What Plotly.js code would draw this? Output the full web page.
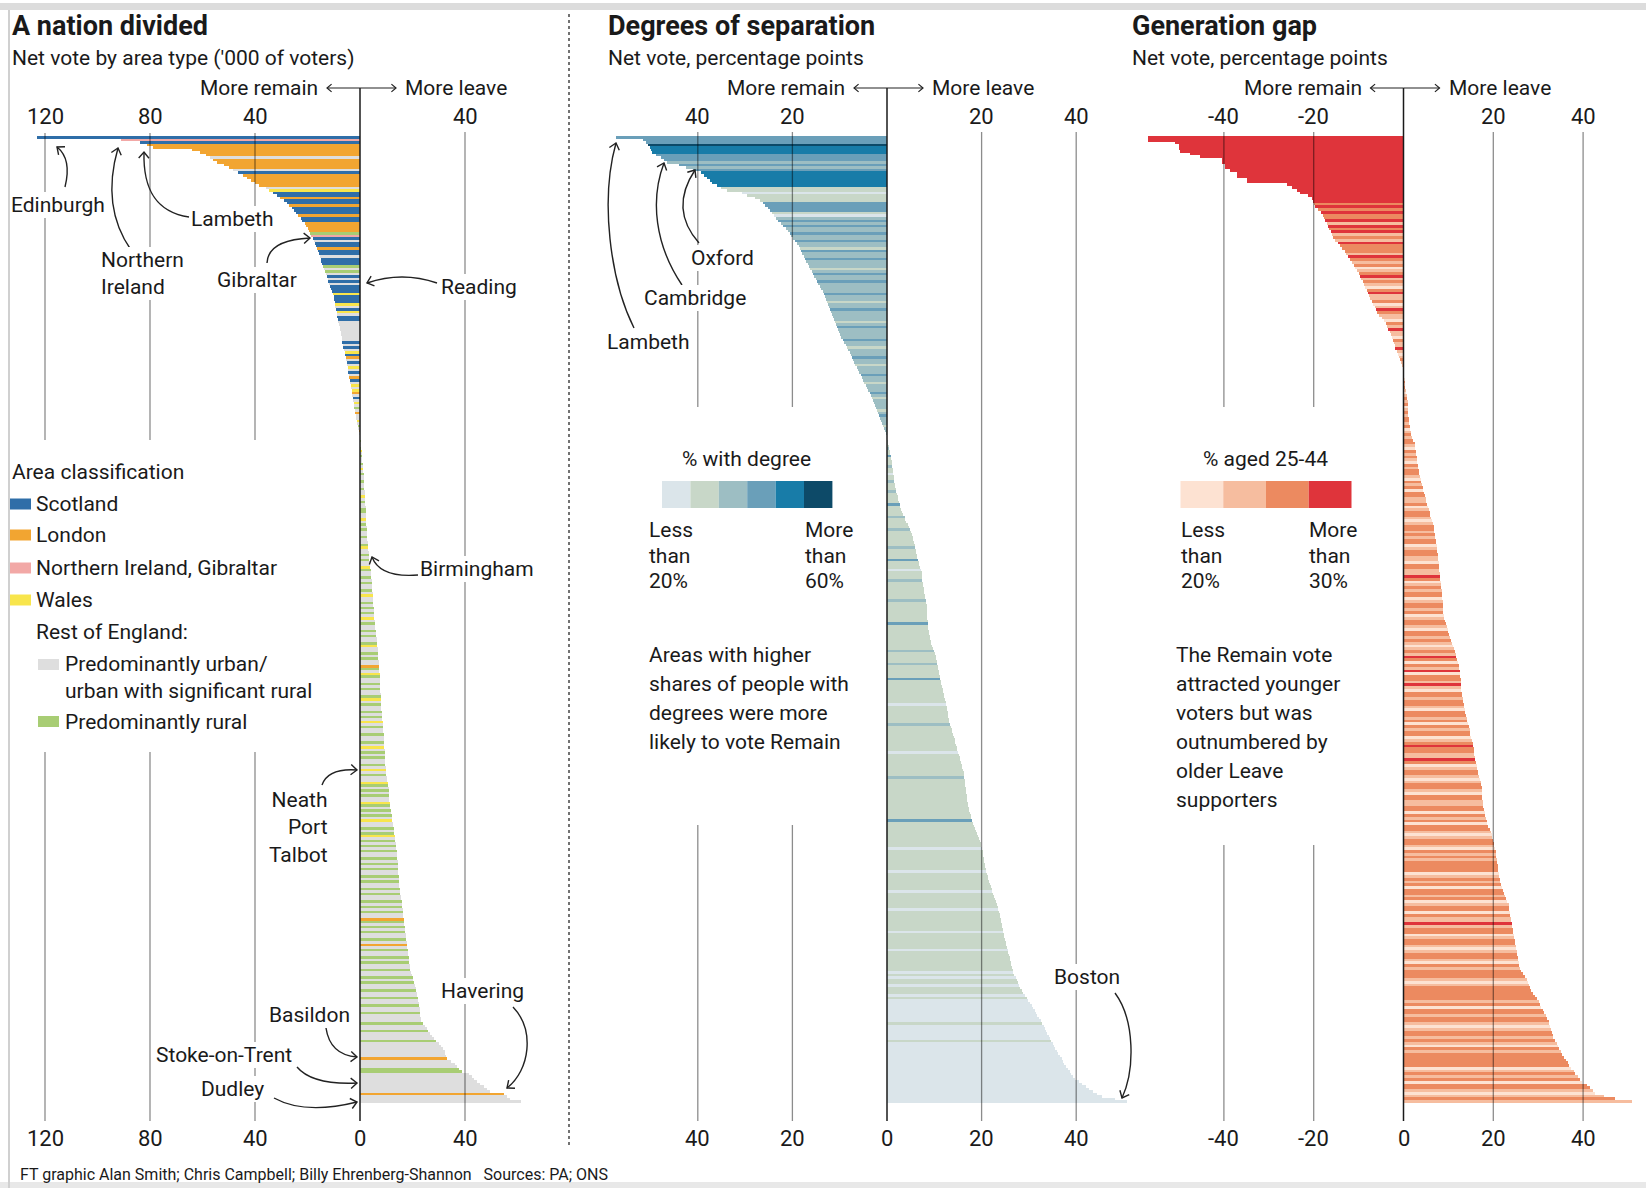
<!DOCTYPE html>
<html><head><meta charset="utf-8">
<script src="https://cdn.plot.ly/plotly-3.0.1.min.js"></script>
<style>html,body{margin:0;padding:0;background:#fff}#chart{width:1646px;height:1188px}</style>
</head><body><div id="chart"></div>
<script>
// ================= DATA =================
// Panel 1: net vote, '000 of voters (negative = more remain), areas sorted
const areaNet = [-123,-91,-84,-81,-79,-64,
-61,-58.5,-57,-56,-54.5,-52,-50,-48.5,-46.5,-44.5,-43,-41.5,-40,-38.5,
-36,-34.5,-33,-31.5,-30.5,-29,-28,-27,-26,-25,-24.5,-23.5,-22.5,-22,-21,-20.5,-20,-19.5,-19,-18.5,
-18,-17.5,-17,-16.8,-16.5,-16,-15.8,-15.4,-15,-14.7,-14.3,-14,-13.6,-13.2,-13,-12.6,-12.3,-12.1,-11.8,-11.3,
-11,-10.6,-10.4,-10,-9.8,-9.6,-9.5,-9.4,-9.1,-8.9,-8.8,-8.6,-8.4,-8.2,-8,-7.8,-7.6,-7.4,-7.2,-7,
-6.9,-6.7,-6.5,-6.3,-6.1,-5.9,-5.7,-5.5,-5.2,-5,-4.9,-4.7,-4.6,-4.4,-4.2,-4.1,-3.9,-3.7,-3.5,-3.3,
-3.2,-3,-2.9,-2.7,-2.5,-2.4,-2.3,-2.1,-2,-1.8,-1.7,-1.5,-1.3,-1.1,-0.9,-0.7,-0.5,-0.3,-0.1,
0.1,0.2,0.3,0.4,0.5,0.6,0.6,0.7,0.8,0.9,1,1.1,1.2,1.3,1.4,1.4,1.5,1.6,1.6,1.7,
1.7,1.8,1.8,1.9,1.9,2,2,2.1,2.1,2.2,2.2,2.3,2.3,2.4,2.4,2.5,2.5,2.6,2.7,2.7,
2.8,2.9,3,3.1,3.2,3.3,3.4,3.5,3.6,3.7,3.8,3.9,4,4.2,4.3,4.3,4.4,4.5,4.5,4.6,
4.7,4.8,4.8,4.9,5,5,5.1,5.2,5.3,5.4,5.5,5.5,5.6,5.7,5.8,5.9,6,6.1,6.2,6.3,
6.4,6.5,6.6,6.7,6.8,6.8,6.9,7,7.1,7.2,7.2,7.3,7.4,7.5,7.5,7.6,7.6,7.7,7.7,7.8,
7.8,7.9,7.9,7.9,8,8,8,8.1,8.2,8.3,8.4,8.5,8.6,8.7,8.7,8.8,8.9,9,9,9.1,
9.2,9.2,9.3,9.4,9.4,9.5,9.5,9.6,9.7,9.7,9.8,9.9,9.9,10,10.2,10.4,10.6,10.8,10.9,11,
11,11.1,11.2,11.2,11.3,11.5,11.6,11.8,11.9,12,12.2,12.3,12.5,12.6,12.8,12.9,13.1,13.2,13.4,13.5,
13.6,13.8,13.9,14,14.1,14.2,14.2,14.3,14.3,14.4,14.5,14.5,14.6,14.7,14.8,14.8,14.9,15,15.1,15.3,
15.4,15.6,15.7,15.9,16,16.1,16.2,16.3,16.4,16.5,16.6,16.7,16.8,17,17.1,17.3,17.4,17.6,17.7,17.8,
17.9,18,18.2,18.3,18.4,18.5,18.7,18.8,19,19.1,19.2,19.4,19.7,20,20.3,20.6,20.9,21.2,21.4,21.6,
21.8,22,22.2,22.4,22.6,22.7,22.8,22.9,23,23.2,23.3,24,24.7,25.4,26,26.8,27.5,28.2,29.1,30,
31,31.8,32.2,32.5,32.9,33.2,34.6,36,36.9,37.9,38.8,41.7,42.6,43.6,44.5,45.9,47.3,48.4,49.4,55,56,57,61.4];
// Area type per bar: S Scotland, L London, N Northern Ireland/Gibraltar, W Wales, U urban, R rural
const areaType =
 "SNSLLL"+"LLULLLLU"+"SLLLLL"+"UW"+"SSL"+"SSLSSSLSS"+"LLLLR"+"N"+"SUSSLSSUS"+"SSRU"+"RUSUS"+"USSSWSS"+"SWUSWUSS"+
 "UUUUUUUUSU"+"SUWSLUSUWUSULSUW"+"UWLUSUWURULUUWURULUW"+
 "URUURWURUURUWURUURUU"+"RUUWURUURRUUWURURUUR"+"UURWUURURUUWRUURURUU"+"RUWUURURURUWURUURURU"+
 "URWUURURUULRUWRUURUR"+"UURWURUURURUWURUURUU"+"RUWURURUURUWURUUWRUR"+"URUUWRURURUWUURURWUR"+
 "URURUURURURUURURUURU"+"RUURURURUULRURURUURU"+"LURUURURUURUURURUURU"+"URUURUURUUURUURUUURU"+
 "UUUUULUUURRUUUUUUUULUUU";

// Panel 2: net vote, percentage points, with degree-share band (0 lowest .. 5 highest)
const degreeNet = [-57.3,-51.5,-51,-50.5,-50.2,-50,-49.6,-48.8,-47.7,-47.2,-46.6,-44,-42.5,-41,-39.4,-38.6,-38,-37.5,-37,-36,
-35,-33.8,-30.7,-29.5,-28,-26.8,-26.3,-25.8,-25.2,-24.7,-24.3,-23.9,-23.4,-23,-22.4,-21.9,-21.4,-21,-20.6,-20.3,
-19.9,-19.5,-19.1,-18.7,-18.4,-18.1,-17.9,-17.6,-17.4,-17.1,-16.8,-16.4,-16.2,-15.9,-15.7,-15.4,-15.1,-14.8,-14.5,-14.2,
-13.9,-13.6,-13.3,-13.1,-12.8,-12.6,-12.4,-12.2,-12,-11.8,-11.6,-11.4,-11.2,-11,-10.8,-10.6,-10.4,-10.2,-10,-9.7,
-9.3,-9,-8.7,-8.5,-8.2,-7.9,-7.7,-7.4,-7.2,-6.9,-6.7,-6.4,-6.2,-5.9,-5.6,-5.3,-5.1,-4.8,-4.5,-4.3,
-4,-3.7,-3.4,-3.2,-2.9,-2.7,-2.5,-2.3,-2.1,-1.9,-1.7,-1.5,-1.3,-1.1,-0.9,-0.7,-0.5,-0.2,
0,0.1,0.2,0.3,0.4,0.5,0.6,0.7,0.8,0.9,1,1,1.1,1.2,1.3,1.3,1.4,1.5,1.5,1.6,
1.7,1.8,2,2.1,2.3,2.4,2.6,2.7,2.8,3,3.2,3.4,3.7,3.9,4.1,4.4,4.6,4.9,5.1,5.3,
5.4,5.6,5.7,5.9,6,6.1,6.2,6.3,6.4,6.5,6.7,6.8,7,7.1,7.3,7.4,7.5,7.5,7.6,7.7,
7.8,7.9,7.9,8,8.1,8.2,8.3,8.4,8.4,8.5,8.5,8.5,8.5,8.6,8.6,8.6,8.7,8.8,8.9,9,
9.1,9.2,9.4,9.6,9.8,9.9,10.1,10.3,10.4,10.5,10.6,10.7,10.8,10.9,11,11.1,11.3,11.4,11.5,11.7,
11.8,11.9,12,12.1,12.3,12.4,12.5,12.6,12.7,12.8,12.9,13,13.1,13.2,13.3,13.5,13.7,13.8,14,14.1,
14.3,14.4,14.6,14.7,14.9,15.1,15.2,15.4,15.5,15.6,15.8,15.9,16,16.2,16.3,16.3,16.4,16.4,16.5,16.6,
16.7,16.8,16.9,17,17,17.1,17.2,17.3,17.4,17.5,17.7,17.8,17.9,18.1,18.3,18.5,18.8,19,19.2,19.5,
19.7,19.8,19.9,20,20.2,20.3,20.4,20.5,20.6,20.7,20.8,20.9,21,21.1,21.3,21.4,21.6,21.8,21.9,22.1,
22.3,22.5,22.7,22.9,23.1,23.3,23.4,23.5,23.7,23.8,23.9,24,24.2,24.3,24.4,24.5,24.6,24.7,24.8,25,
25.1,25.2,25.3,25.5,25.6,25.8,25.9,26,26.2,26.3,26.4,26.6,26.7,26.9,27.2,27.4,27.7,28,28.2,28.5,
28.8,29.2,29.5,29.9,30.2,30.6,30.9,31.2,31.5,31.8,32.1,32.5,32.8,33.1,33.4,33.7,33.9,34.2,34.5,34.7,
35,35.3,35.6,35.9,36.2,36.5,36.9,37.2,37.5,37.9,38.2,38.6,39,39.3,39.8,40.6,41.3,42,42.8,43.5,44.3,45.5,48.1,50.7];
const degreeLevel =
 "3335444333"+"2323444444"+"1101113333"+"1023232232"+"23221322322212322322"+"22322122322221232222"+
 "32212223221222322122"+"232122221232221222"+
 "12111211311121101121"+"11211113111121111211"+"11112111131110111211"+"11111211111111311111"+
 "11111211112111113111"+"11111101111111211111"+"11111011111111121111"+"11111111111131111111"+
 "11101111111101111111"+"01111110111111110111"+"11101111111101011011"+"10100000000010000001"+
 "000000000000000000000000";

// Panel 3: net vote, percentage points, with share aged 25-44 band (0 lowest .. 3 highest)
const ageNet = [-57,-57,-50.8,-50,-50,-49.7,-47.5,-45.3,-40.4,-40.4,-39.7,-39.7,-38.6,-37.1,-37.1,-34.9,-34.9,-26,-24.9,-23.8,
-23,-21.2,-20.3,-20.1,-19.9,-19.7,-19,-18.4,-18,-17.7,-17.4,-17.1,-16.8,-16.5,-16.2,-15.9,-15.6,-15.3,-14.7,-14.1,
-13.6,-13.1,-12.7,-12.3,-12,-11.5,-11.1,-10.7,-10.3,-10,-9.7,-9.4,-9.1,-8.8,-8.5,-8.2,-7.9,-7.6,-7.4,-7.1,
-6.8,-6.4,-6.1,-5.8,-5.4,-4.9,-4.3,-3.9,-3.6,-3.4,-3.1,-2.8,-2.6,-2.4,-2.2,-2,-1.8,-1.5,-1.3,-1.1,-0.8,-0.6,-0.4,-0.2,
0.1,0.2,0.2,0.3,0.3,0.4,0.4,0.5,0.6,0.7,0.8,0.9,0.9,1,1,1.1,1.1,1.2,1.2,1.3,
1.4,1.5,1.6,1.7,1.8,2.1,2.5,2.6,2.6,2.7,2.8,2.9,3,3.1,3.2,3.3,3.4,3.5,3.7,3.8,
4,4.1,4.3,4.4,4.6,4.7,4.9,5,5.2,5.4,5.6,5.8,6,6.2,6.4,6.6,6.7,6.8,6.9,7,
7.1,7.2,7.3,7.4,7.4,7.5,7.6,7.6,7.7,7.8,7.9,8,8,8.1,8.2,8.2,8.3,8.4,8.4,8.5,
8.5,8.6,8.6,8.7,8.7,8.8,8.9,8.9,9,9.1,9.2,9.4,9.6,9.8,10,10.1,10.3,10.6,10.8,11,
11.3,11.5,11.7,11.8,12,12.1,12.3,12.4,12.5,12.6,12.6,12.7,12.7,12.8,12.8,12.9,13,13.1,13.2,13.3,
13.4,13.5,13.7,13.8,14,14.1,14.2,14.4,14.5,14.7,14.8,14.9,15.1,15.3,15.4,15.5,15.6,15.7,15.8,15.9,
16,16.2,16.3,16.4,16.6,16.7,16.9,17,17.2,17.3,17.4,17.4,17.5,17.5,17.5,17.6,17.6,17.8,17.9,18.1,
18.2,18.4,18.5,18.7,18.9,19.2,19.4,19.6,19.8,19.9,20.1,20.2,20.3,20.5,20.6,20.7,20.8,20.9,21,21.1,
21.1,21.2,21.3,21.5,21.6,21.7,21.9,22.1,22.4,22.6,22.9,23.1,23.4,23.5,23.6,23.7,23.8,23.9,24,24.1,
24.2,24.3,24.4,24.5,24.6,24.8,24.9,25,25.1,25.2,25.3,25.4,25.5,25.7,25.8,26,26.2,26.6,27,27.5,
27.7,28,28.2,28.4,28.8,29.3,29.8,30.2,30.4,30.7,31,31.4,31.7,32,32.3,32.5,32.7,32.9,33.1,33.3,
33.4,33.7,34.1,34.4,34.7,35,35.3,35.7,36.2,36.6,36.9,37.4,37.9,38.3,38.8,39.3,39.8,40.8,41.6,42.2,42.7,44.6,47.2,50.9];
const ageLevel =
 "33333333333333333333"+"33332323223132312132"+"22132120123121023112"+"013211021311021131012110"+
 "12102121012120121221"+"20121221021210212210"+"21202211201221012212"+"12201221102211320121"+
 "22012212012210221210"+"12132021302213102212"+"21022120212201232211"+"32012210122102211220"+
 "21202210122102121222"+"20121202212012202113"+"12201221012210212221"+"01222221202212210122"+
 "121021222220121202210121";

// Tick values and labels
const ticks1 = [-120, -80, -40, 0, 40];
const ticks1Top = ['120', '80', '40', '', '40'];
const ticks1Bot = ['120', '80', '40', '0', '40'];
const ticks2 = [-40, -20, 0, 20, 40];
const ticks2Top = ['40', '20', '', '20', '40'];
const ticks2Bot = ['40', '20', '0', '20', '40'];
const ticks3 = [-40, -20, 0, 20, 40];
const ticks3Top = ['-40', '-20', '', '20', '40'];
const ticks3Bot = ['-40', '-20', '0', '20', '40'];

// Legend categories
const areaLegend = ['Scotland', 'London', 'Northern Ireland, Gibraltar', 'Wales'];
const areaLegendKeys = ['S', 'L', 'N', 'W'];

// ================= STYLE / LAYOUT =================
const areaColors = {S:'#2f6ea8', L:'#f2a531', N:'#f2a8a6', W:'#f8e54c', U:'#dedede', R:'#a8cd74'};
const degreeColors = ['#dbe5ea', '#c8d7c8', '#9dbec3', '#6a9fb9', '#187ca8', '#0d4a68'];
const ageColors = ['#fde2d2', '#f6bd9f', '#ec8a60', '#df343b'];

const W = 1646, H = 1188;
const X = px => px / W;
const Y = py => 1 - py / H;
const FONT = 'Roboto, "Open Sans", sans-serif';
const TXT = '#1a1a1a';
const FS = 21;
const BAR_TOP = 136, BAR_BOT = 1103;
const ROW_ARROW = 88, ROW_TICK = 116, ROW_TICK_BOT = 1138;

const panels = [
  {vals: areaNet, cols: areaType.split('').map(c => areaColors[c] || '#dedede'), zero: 360, ppu: 2.625, d0: 12, d1: 566,
   ticks: ticks1, top: ticks1Top, bot: ticks1Bot,
   grid: [[-120, [[133, 440], [752, 1121]]], [-80, [[133, 440], [752, 1121]]], [-40, [[133, 440], [752, 1121]]], [40, [[132, 1121]]]]},
  {vals: degreeNet, cols: degreeLevel.split('').map(c => degreeColors[+c] || degreeColors[0]), zero: 887, ppu: 4.73, d0: 575, d1: 1140,
   ticks: ticks2, top: ticks2Top, bot: ticks2Bot,
   grid: [[-40, [[132, 407], [825, 1121]]], [-20, [[132, 407], [825, 1121]]], [20, [[132, 1121]]], [40, [[132, 1121]]]]},
  {vals: ageNet, cols: ageLevel.split('').map(c => ageColors[+c] || ageColors[0]), zero: 1403.5, ppu: 4.49, d0: 1128, d1: 1640,
   ticks: ticks3, top: ticks3Top, bot: ticks3Bot,
   grid: [[-40, [[132, 407], [845, 1121]]], [-20, [[132, 407], [845, 1121]]], [20, [[132, 1121]]], [40, [[132, 1121]]]]}
];

const traces = [];
const shapes = [];
const annotations = [];
const layout = {
  width: W, height: H, margin: {l: 0, r: 0, t: 0, b: 0},
  paper_bgcolor: '#ffffff', plot_bgcolor: 'rgba(0,0,0,0)',
  showlegend: false, bargap: 0, hovermode: false,
  font: {family: FONT, color: TXT, size: FS},
  shapes, annotations
};

function txt(x, y, text, opts = {}) {
  annotations.push(Object.assign({
    xref: 'paper', yref: 'paper', x: X(x), y: Y(y), text, showarrow: false,
    xanchor: 'left', yanchor: 'middle', font: {family: FONT, size: FS, color: TXT}
  }, opts));
}
function label(x, y, text, opts = {}) {
  txt(x, y, text, Object.assign({bgcolor: '#ffffff', borderpad: 1, borderwidth: 0}, opts));
}
function rect(x0, y0, x1, y1, color) {
  shapes.push({type: 'rect', xref: 'paper', yref: 'paper', x0: X(x0), x1: X(x1), y0: Y(y1), y1: Y(y0),
    fillcolor: color, line: {width: 0}, layer: 'above'});
}
function arrow(pts, head = 8, width = 1.4) {
  const p = pts.map(([x, y]) => X(x) + ',' + Y(y));
  let d = 'M' + p[0];
  if (pts.length === 2) d += ' L' + p[1];
  else if (pts.length === 3) d += ' Q' + p[1] + ' ' + p[2];
  else d += ' C' + p[1] + ' ' + p[2] + ' ' + p[3];
  shapes.push({type: 'path', xref: 'paper', yref: 'paper', path: d, line: {color: '#222', width}, layer: 'above'});
  const [tx, ty] = pts[pts.length - 1], [sx, sy] = pts[pts.length - 2];
  const len = Math.hypot(tx - sx, ty - sy), ux = (tx - sx) / len, uy = (ty - sy) / len;
  const a = Math.PI / 4.5;
  const h = s => [tx - head * (ux * Math.cos(s * a) - uy * Math.sin(s * a)), ty - head * (uy * Math.cos(s * a) + ux * Math.sin(s * a))];
  const h1 = h(1), h2 = h(-1);
  shapes.push({type: 'path', xref: 'paper', yref: 'paper',
    path: 'M' + X(h1[0]) + ',' + Y(h1[1]) + ' L' + X(tx) + ',' + Y(ty) + ' L' + X(h2[0]) + ',' + Y(h2[1]),
    line: {color: '#222', width}, layer: 'above'});
}

panels.forEach((p, k) => {
  const id = k === 0 ? '' : String(k + 1);
  const N = p.vals.length;
  layout['xaxis' + id] = {domain: [X(p.d0), X(p.d1)], range: [(p.d0 - p.zero) / p.ppu, (p.d1 - p.zero) / p.ppu],
    visible: false, fixedrange: true, anchor: 'y' + id};
  layout['yaxis' + id] = {domain: [Y(BAR_BOT), Y(BAR_TOP)], range: [N - 0.5, -0.5],
    visible: false, fixedrange: true, anchor: 'x' + id};
  traces.push({type: 'bar', orientation: 'h', x: p.vals, y: p.vals.map((_, i) => i), width: 1,
    xaxis: 'x' + id, yaxis: 'y' + id, marker: {color: p.cols, line: {width: 0}}, hoverinfo: 'skip'});
  // gridlines
  p.grid.forEach(([v, segs]) => segs.forEach(([a, b]) => shapes.push({type: 'line', xref: 'x' + id, yref: 'paper',
    x0: v, x1: v, y0: Y(a), y1: Y(b), line: {color: 'rgba(0,0,0,0.45)', width: 1.3}, layer: 'above'})));
  // zero line
  shapes.push({type: 'line', xref: 'x' + id, yref: 'paper', x0: 0, x1: 0, y0: Y(ROW_ARROW), y1: Y(1121),
    line: {color: '#1a1a1a', width: 1.5}, layer: 'above'});
  // tick labels
  p.ticks.forEach((v, j) => {
    if (p.top[j]) annotations.push({xref: 'x' + id, yref: 'paper', x: v, y: Y(ROW_TICK), text: p.top[j], showarrow: false,
      xanchor: 'center', yanchor: 'middle', font: {family: FONT, size: 22, color: TXT}});
    annotations.push({xref: 'x' + id, yref: 'paper', x: v, y: Y(ROW_TICK_BOT), text: p.bot[j], showarrow: false,
      xanchor: 'center', yanchor: 'middle', font: {family: FONT, size: 22, color: TXT}});
  });
  // "More remain <-> More leave"
  const z = p.zero;
  txt(z - 40, ROW_ARROW, 'More remain', {xanchor: 'right'});
  txt(z + 43, ROW_ARROW, 'More leave', {xanchor: 'left'});
  arrow([[z, ROW_ARROW], [z - 33, ROW_ARROW]], 6, 1.2);
  arrow([[z, ROW_ARROW], [z + 36, ROW_ARROW]], 6, 1.2);
});

// frame
shapes.push({type: 'rect', xref: 'paper', yref: 'paper', x0: 0, x1: 1, y0: Y(10), y1: Y(3), fillcolor: '#dcdcdc', line: {width: 0}, layer: 'below'});
shapes.push({type: 'rect', xref: 'paper', yref: 'paper', x0: 0, x1: 1, y0: Y(1188), y1: Y(1182), fillcolor: '#e8e8e8', line: {width: 0}, layer: 'below'});
shapes.push({type: 'line', xref: 'paper', yref: 'paper', x0: X(9), x1: X(9), y0: Y(10), y1: Y(1188), line: {color: '#d0d0d0', width: 2}, layer: 'below'});
// dotted separator
shapes.push({type: 'line', xref: 'paper', yref: 'paper', x0: X(569), x1: X(569), y0: Y(14), y1: Y(1148), line: {color: '#444', width: 1.5, dash: 'dot'}, layer: 'above'});

// Titles
const titleFont = {family: FONT, size: 27, color: TXT};
txt(10, 26, '<b>A nation divided</b>', {font: titleFont});
txt(10, 58, "Net vote by area type ('000 of voters)");
txt(606, 26, '<b>Degrees of separation</b>', {font: titleFont});
txt(606, 58, 'Net vote, percentage points');
txt(1130, 26, '<b>Generation gap</b>', {font: titleFont});
txt(1130, 58, 'Net vote, percentage points');
txt(18, 1174, 'FT graphic Alan Smith; Chris Campbell; Billy Ehrenberg-Shannon&nbsp;&nbsp; Sources: PA; ONS', {font: {family: FONT, size: 16, color: TXT}});

// Panel 1 legend
txt(10, 472, 'Area classification');
areaLegend.forEach((t, i) => {
  const y = [504, 535, 568, 600][i];
  rect(10, y - 5.5, 31, y + 5.5, areaColors[areaLegendKeys[i]]);
  txt(34, y, t);
});
txt(34, 632, 'Rest of England:');
rect(38, 659, 59, 670, areaColors.U);
txt(63, 664, 'Predominantly urban/');
txt(63, 691, 'urban with significant rural');
rect(38, 716, 59, 727, areaColors.R);
txt(63, 722, 'Predominantly rural');

// Panel 1 labels + arrows
label(10, 205, 'Edinburgh');
arrow([[65, 187], [72, 159], [57, 147]]);
label(100, 273, 'Northern<br>Ireland', {align: 'left'});
arrow([[131, 250], [101, 207], [118, 148]]);
label(190, 219, 'Lambeth');
arrow([[189, 217], [155, 212], [143, 188], [144, 152]]);
label(216, 280, 'Gibraltar');
arrow([[267, 263], [268, 240], [310, 238]]);
label(440, 287, 'Reading');
arrow([[437, 283], [402, 271], [367, 283]]);
label(419, 569, 'Birmingham');
arrow([[418, 575], [380, 578], [372, 557]]);
label(329, 827, 'Neath<br>Port<br>Talbot', {xanchor: 'right', align: 'right'});
arrow([[322, 785], [328, 768], [357, 770]]);
label(440, 991, 'Havering');
arrow([[513, 1007], [535, 1030], [530, 1070], [507, 1088]]);
label(268, 1015, 'Basildon');
arrow([[326, 1028], [330, 1055], [357, 1057]]);
label(155, 1055, 'Stoke-on-Trent');
arrow([[297, 1067], [312, 1085], [357, 1083]]);
label(200, 1089, 'Dudley');
arrow([[274, 1098], [305, 1115], [357, 1102]]);

// Panel 2 labels + arrows
label(690, 258, 'Oxford');
arrow([[699, 243], [669, 209], [695, 170]]);
label(643, 298, 'Cambridge');
arrow([[682, 285], [655, 245], [650, 200], [664, 163]]);
label(606, 342, 'Lambeth');
arrow([[634, 328], [610, 280], [600, 200], [616, 143]]);
label(1053, 977, 'Boston');
arrow([[1115, 993], [1135, 1020], [1135, 1070], [1122, 1098]]);

// Panel 2 legend
txt(746, 459, '% with degree', {xanchor: 'center'});
degreeColors.forEach((c, i) => rect(662 + i * 28.4, 481, 662 + (i + 1) * 28.4, 508, c));
['Less', 'than', '20%'].forEach((t, i) => txt(647, 530 + i * 25.5, t));
['More', 'than', '60%'].forEach((t, i) => txt(803, 530 + i * 25.5, t));
['Areas with higher', 'shares of people with', 'degrees were more', 'likely to vote Remain']
  .forEach((t, i) => txt(647, 655 + i * 29, t));

// Panel 3 legend
txt(1265, 459, '% aged 25-44', {xanchor: 'center'});
ageColors.forEach((c, i) => rect(1180.5 + i * 42.75, 481, 1180.5 + (i + 1) * 42.75, 508, c));
['Less', 'than', '20%'].forEach((t, i) => txt(1179, 530 + i * 25.5, t));
['More', 'than', '30%'].forEach((t, i) => txt(1307, 530 + i * 25.5, t));
['The Remain vote', 'attracted younger', 'voters but was', 'outnumbered by', 'older Leave', 'supporters']
  .forEach((t, i) => txt(1174, 655 + i * 29, t));

Plotly.newPlot('chart', traces, layout, {staticPlot: true, displayModeBar: false});
</script>
</body></html>
